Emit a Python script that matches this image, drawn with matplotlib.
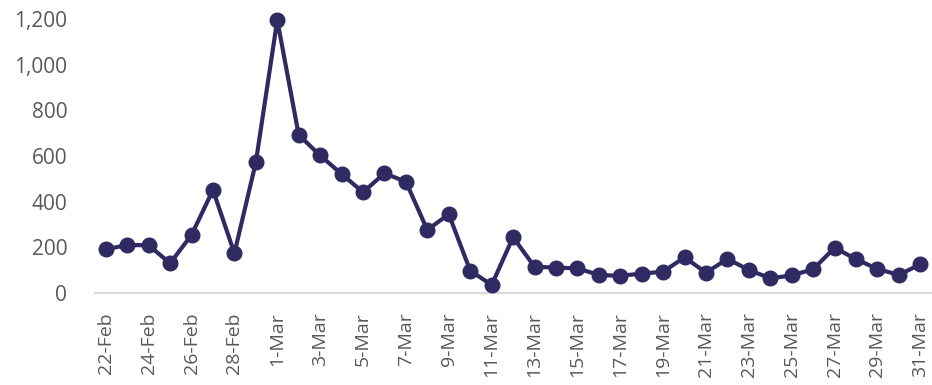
import matplotlib.pyplot as plt
import pandas as pd

# daily values, 22 Feb - 31 Mar 2020
dates = pd.date_range("2020-02-22", "2020-03-31", freq="D")
values = [191, 210, 209, 130, 254, 451, 174, 572, 1195, 692,
          602, 521, 441, 524, 487, 276, 345, 98, 35, 244,
          115, 111, 108, 79, 75, 85, 93, 156, 89, 149,
          101, 64, 77, 104, 198, 148, 105, 79, 126]
tick_labels = [f"{d.day}-{d.strftime('%b')}" for d in dates]

line_color = "#2f2a62"
text_color = "#595959"

plt.rcParams['font.family'] = ['Open Sans', 'DejaVu Sans']

fig = plt.figure(figsize=(9.32, 3.85), dpi=100)
ax = fig.add_axes([0.102, 0.239, 0.897, 0.712])

x = list(range(len(values)))
ax.plot(x, values, color=line_color, linewidth=3, marker='o',
        markersize=10.5, clip_on=False, zorder=3)

ax.set_xlim(-0.5, len(values) - 0.5)
ax.set_ylim(0, 1200)
ax.set_yticks(range(0, 1201, 200))
ax.set_yticklabels([f"{v:,}" for v in range(0, 1201, 200)])
ax.set_xticks(x[::2])
ax.set_xticklabels(tick_labels[::2], rotation=90)

for side in ['top', 'right', 'left']:
    ax.spines[side].set_visible(False)
ax.spines['bottom'].set_color('#d9d9d9')
ax.spines['bottom'].set_linewidth(1.5)
ax.tick_params(axis='both', length=0, colors=text_color)
ax.tick_params(axis='y', pad=20, labelsize=15)
ax.tick_params(axis='x', pad=14, labelsize=14)

fig.savefig("out.png", dpi=100)
